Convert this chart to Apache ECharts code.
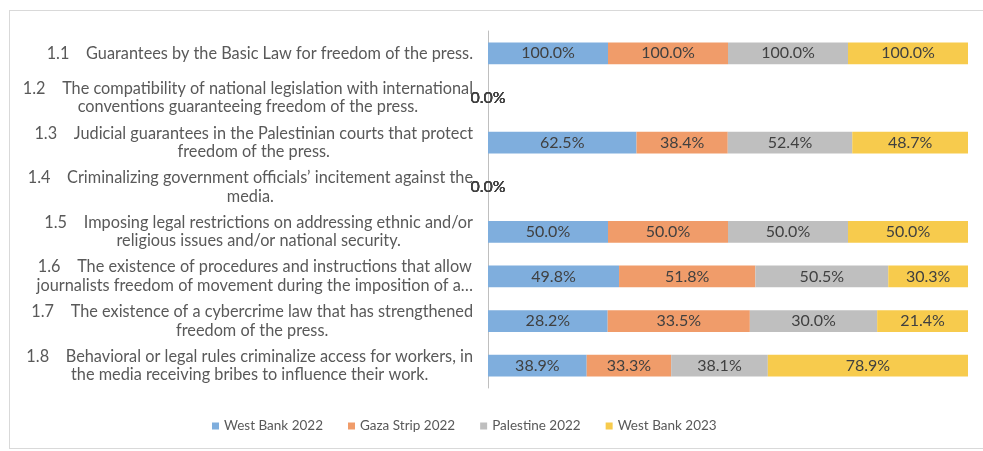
<!DOCTYPE html>
<html>
<head>
    <meta charset="utf-8">
    <title>Press freedom indicators</title>
    <script src="https://cdn.jsdelivr.net/npm/echarts@6/dist/echarts.min.js"></script>
    <style>
        body { margin: 0; background: #fff; }
        #frame { position: absolute; left: 9px; top: 10px; width: 990px; height: 437px; border: 1px solid #d9d9d9; }
        #main { position: absolute; left: 0; top: 0; width: 983px; height: 451px; }
    </style>
</head>
<body>
    <div id="frame"></div>
    <div id="main"></div>

    <script type="text/javascript">
        var chart = echarts.init(document.getElementById('main'));

        // category labels (line breaks as in the source)
        var categories = [
            '1.1    Guarantees by the Basic Law for freedom of the press.',
            '1.2    The compatibility of national legislation with international\nconventions guaranteeing freedom of the press.',
            '1.3    Judicial guarantees in the Palestinian courts that protect\nfreedom of the press.',
            '1.4    Criminalizing government officials\u2019 incitement against the\nmedia.',
            '1.5    Imposing legal restrictions on addressing ethnic and/or\nreligious issues and/or national security.',
            '1.6    The existence of procedures and instructions that allow\njournalists freedom of movement during the imposition of a\u2026',
            '1.7    The existence of a cybercrime law that has strengthened\nfreedom of the press.',
            '1.8    Behavioral or legal rules criminalize access for workers, in\nthe media receiving bribes to influence their work.'
        ];

        var seriesNames = ['West Bank 2022', 'Gaza Strip 2022', 'Palestine 2022', 'West Bank 2023'];

        var westBank2022 = [100.0, 0, 62.5, 0, 50.0, 49.8, 28.2, 38.9];
        var gaza2022 = [100.0, 0, 38.4, 0, 50.0, 51.8, 33.5, 33.3];
        var palestine2022 = [100.0, 0, 52.4, 0, 50.0, 50.5, 30.0, 38.1];
        var westBank2023 = [100.0, 0, 48.7, 0, 50.0, 30.3, 21.4, 78.9];

        var colors = ['#7FAEDD', '#F09C6A', '#BFBFBF', '#F7CB4D'];

        var raw = [westBank2022, gaza2022, palestine2022, westBank2023];

        // 100% stacked: share of each row
        var totals = categories.map(function (c, i) {
            return raw.reduce(function (s, arr) { return s + arr[i]; }, 0);
        });

        var fontFamily = 'Lato, "Liberation Sans", sans-serif';

        var series = raw.map(function (arr, k) {
            return {
                name: seriesNames[k],
                type: 'bar',
                stack: 'total',
                barWidth: '49%',
                itemStyle: { color: colors[k] },
                label: {
                    show: true,
                    position: 'inside',
                    color: '#404040',
                    fontFamily: fontFamily,
                    fontSize: 16,
                    formatter: function (p) {
                        return raw[p.seriesIndex][p.dataIndex].toFixed(1) + '%';
                    }
                },
                data: arr.map(function (v, i) {
                    return totals[i] ? v / totals[i] * 100 : 0;
                })
            };
        });

        var option = {
            animation: false,
            color: colors,
            grid: { left: 488, right: 15, top: 31, height: 357 },
            legend: {
                data: seriesNames,
                left: 207,
                top: 414,
                itemWidth: 7,
                itemHeight: 7,
                itemGap: 25,
                icon: 'rect',
                textStyle: { color: '#595959', fontFamily: fontFamily, fontSize: 13.5 }
            },
            xAxis: {
                type: 'value',
                min: 0,
                max: 100,
                show: false
            },
            yAxis: {
                type: 'category',
                inverse: true,
                data: categories,
                axisLine: { show: true, lineStyle: { color: '#bfbfbf' } },
                axisTick: { show: false },
                axisLabel: {
                    margin: 15,
                    color: '#595959',
                    formatter: function (v) {
                        return v.split('\n').map(function (l) { return '{c|' + l + '}'; }).join('\n');
                    },
                    rich: {
                        c: { align: 'center', color: '#595959', fontFamily: fontFamily, fontSize: 16.3, lineHeight: 18.5 }
                    }
                }
            },
            series: series
        };

        chart.setOption(option);
    </script>
</body>
</html>
